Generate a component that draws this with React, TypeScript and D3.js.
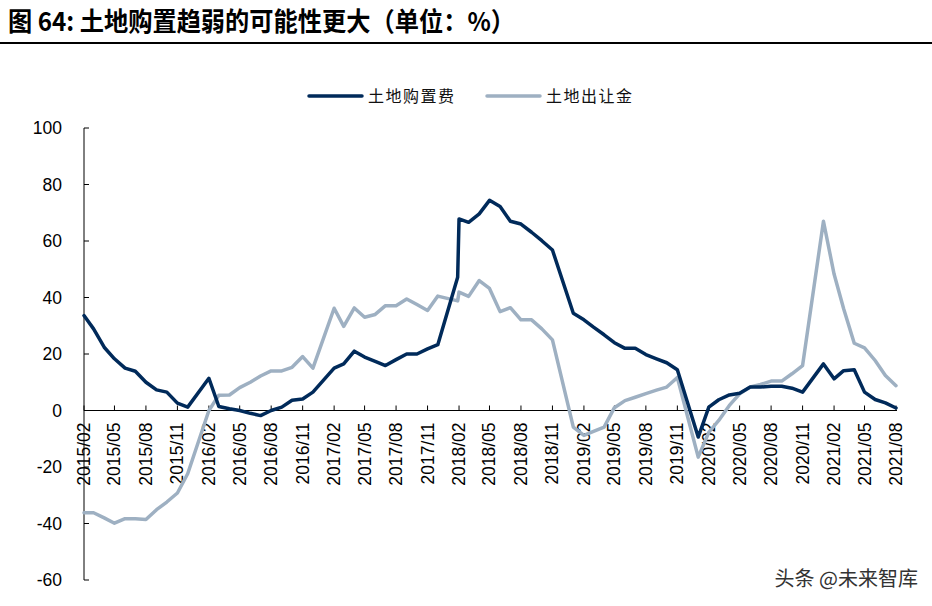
import React from "react";
import * as d3 from "d3";

const TITLE = "图 64: 土地购置趋弱的可能性更大（单位：%）";
const SERIES_NAMES = ["土地购置费", "土地出让金"];
const COLORS = ["#002A5A", "#9EB0C2"];

const DATES = [
  "2015-02-01","2015-03-01","2015-04-01","2015-05-01","2015-06-01","2015-07-01","2015-08-01","2015-09-01","2015-10-01","2015-11-01","2015-12-01",
  "2016-02-01","2016-03-01","2016-04-01","2016-05-01","2016-06-01","2016-07-01","2016-08-01","2016-09-01","2016-10-01","2016-11-01","2016-12-01",
  "2017-02-01","2017-03-01","2017-04-01","2017-05-01","2017-06-01","2017-07-01","2017-08-01","2017-09-01","2017-10-01","2017-11-01","2017-12-01",
  "2018-01-28","2018-02-01","2018-03-01","2018-04-01","2018-05-01","2018-06-01","2018-07-01","2018-08-01","2018-09-01","2018-10-01","2018-11-01",
  "2019-01-01","2019-02-01","2019-03-01","2019-04-01","2019-05-01","2019-06-01","2019-07-01","2019-08-01","2019-09-01","2019-10-01","2019-11-01",
  "2020-01-01","2020-02-01","2020-03-01","2020-04-01","2020-05-01","2020-06-01","2020-07-01","2020-08-01","2020-09-01","2020-10-01","2020-11-01",
  "2021-01-01","2021-02-01","2021-03-01","2021-04-01","2021-05-01","2021-06-01","2021-07-01","2021-08-01",
];

const LAND_PURCHASE = [
  33.6, 28.9, 22.4, 18.3, 15.0, 13.9, 10.0, 7.3, 6.5, 2.6, 1.2,
  11.4, 1.4, 0.6, 0.0, -1.0, -1.8, 0.0, 1.2, 3.6, 4.1, 6.5,
  15.0, 16.5, 21.0, 18.9, 17.4, 15.9, 18.0, 20.0, 20.0, 21.8, 23.3,
  47.2, 67.8, 66.6, 69.6, 74.4, 72.2, 67.0, 66.0, 63.1, 60.1, 56.8,
  34.4, 32.1, 29.5, 26.8, 24.0, 22.0, 22.0, 19.8, 18.3, 16.9, 14.4,
  -9.4, 1.2, 3.8, 5.5, 6.1, 8.3, 8.3, 8.6, 8.6, 7.9, 6.5,
  16.5, 11.2, 14.1, 14.4, 6.5, 3.9, 2.7, 0.9,
];

const LAND_TRANSFER = [
  -36.2, -36.2, -38.0, -39.9, -38.3, -38.3, -38.6, -35.1, -32.4, -29.2, -22.4,
  0.0, 5.4, 5.5, 8.1, 10.0, 12.2, 14.0, 14.0, 15.3, 19.1, 15.0,
  36.2, 29.8, 36.3, 33.0, 34.0, 37.1, 37.1, 39.5, 37.5, 35.4, 40.5,
  38.8, 41.9, 40.4, 46.0, 43.2, 35.0, 36.4, 32.1, 32.1, 28.9, 25.0,
  -5.9, -8.8, -7.4, -5.9, 1.0, 3.5, 4.7, 6.0, 7.2, 8.3, 11.7,
  -16.5, -7.7, -3.5, 1.8, 5.9, 8.3, 9.2, 10.4, 10.4, 13.0, 15.9,
  67.0, 48.3, 36.0, 23.8, 22.2, 17.7, 12.4, 8.8,
];

const X_TICKS = [
  "2015/02","2015/05","2015/08","2015/11","2016/02","2016/05","2016/08","2016/11",
  "2017/02","2017/05","2017/08","2017/11","2018/02","2018/05","2018/08","2018/11",
  "2019/02","2019/05","2019/08","2019/11","2020/02","2020/05","2020/08","2020/11",
  "2021/02","2021/05","2021/08",
];
const Y_TICKS = [100, 80, 60, 40, 20, 0, -20, -40, -60];

const W = 932;
const H = 606;
const FONT = "'Liberation Sans', Arial, sans-serif";
const CJK = "'Noto Sans CJK SC', sans-serif";

export default function App() {
  const parseDay = d3.timeParse("%Y-%m-%d");
  const parseTick = d3.timeParse("%Y/%m");
  const dates = DATES.map((d) => parseDay(d) as Date);

  const x = d3
    .scaleTime()
    .domain([parseTick("2015/02") as Date, parseTick("2021/08") as Date])
    .range([84, 896]);
  const y = d3.scaleLinear().domain([-60, 100]).range([580, 128]);

  const line = d3
    .line<[Date, number]>()
    .x((d) => x(d[0]))
    .y((d) => y(d[1]));

  const series = [LAND_PURCHASE, LAND_TRANSFER].map((vals) =>
    vals.map((v, i) => [dates[i], v] as [Date, number])
  );

  const y0 = y(0);

  return (
    <svg
      width={W}
      height={H}
      style={{ position: "absolute", left: 0, top: 0, background: "#fff" }}
    >
      <rect x={0} y={0} width={W} height={H} fill="#fff" />
      {/* Title */}
      <text
        x={8}
        y={31}
        fontFamily={CJK}
        fontWeight="bold"
        fontSize={26}
        fill="#000"
        textLength={507}
        lengthAdjust="spacingAndGlyphs"
      >
        {TITLE}
      </text>
      <line x1={0} x2={W} y1={43} y2={43} stroke="#000" strokeWidth={2} />

      {/* Legend */}
      {SERIES_NAMES.map((name, i) => {
        const lx = i === 0 ? 309 : 487;
        return (
          <g key={name}>
            <line
              x1={lx}
              x2={lx + 53}
              y1={96}
              y2={96}
              stroke={COLORS[i]}
              strokeWidth={3.5}
              strokeLinecap="round"
            />
            <text
              x={lx + 59}
              y={102}
              fontFamily={CJK}
              fontSize={16}
              letterSpacing={1.5}
              fill="#111"
            >
              {name}
            </text>
          </g>
        );
      })}

      {/* Y axis */}
      <line x1={84} x2={84} y1={y(100)} y2={y(-60)} stroke="#000" strokeWidth={1} />
      {Y_TICKS.map((t) => (
        <g key={t}>
          <line x1={84} x2={89} y1={y(t)} y2={y(t)} stroke="#000" strokeWidth={1} />
          <text
            x={62}
            y={y(t)}
            textAnchor="end"
            dominantBaseline="central"
            fontFamily={FONT}
            fontSize={17.5}
            fill="#000"
          >
            {t}
          </text>
        </g>
      ))}

      {/* X axis */}
      <line x1={84} x2={897} y1={y0} y2={y0} stroke="#000" strokeWidth={1} />
      {X_TICKS.map((t) => {
        const tx = x(parseTick(t) as Date);
        return (
          <g key={t}>
            <line x1={tx} x2={tx} y1={y0} y2={y0 - 5} stroke="#000" strokeWidth={1} />
            <text
              transform={`translate(${tx},${y0 + 12}) rotate(-90)`}
              textAnchor="end"
              dominantBaseline="central"
              fontFamily={FONT}
              fontSize={17.5}
              fill="#000"
            >
              {t}
            </text>
          </g>
        );
      })}

      {/* Lines: gray first, then dark on top */}
      {[1, 0].map((i) => (
        <path
          key={i}
          d={line(series[i]) || ""}
          fill="none"
          stroke={COLORS[i]}
          strokeWidth={3.5}
          strokeLinejoin="round"
          strokeLinecap="round"
        />
      ))}

      {/* Watermark */}
      <text
        x={918}
        y={586}
        textAnchor="end"
        fontFamily={CJK}
        fontSize={20}
        fill="#333"
        stroke="#fff"
        strokeWidth={0.6}
        paintOrder="stroke"
      >
        头条 @未来智库
      </text>
    </svg>
  );
}
